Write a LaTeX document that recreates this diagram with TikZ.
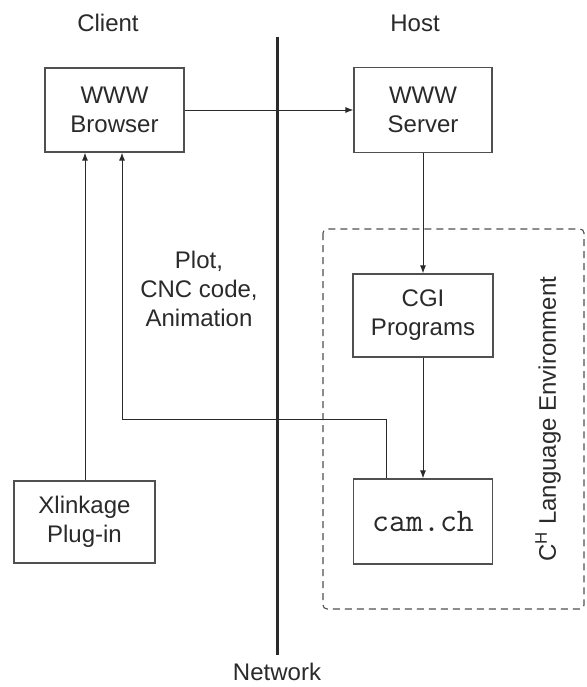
\documentclass[tikz,border=0pt]{standalone}
\usepackage{fontspec}
\setmainfont{Liberation Sans}
\usetikzlibrary{arrows.meta}
\definecolor{ink}{HTML}{2A2A2A}
\definecolor{edge}{HTML}{505050}
\begin{document}
\begin{tikzpicture}[x=1pt,y=-1pt,
  box/.style={draw=edge,line width=1.3pt,fill=white,align=center,inner sep=0pt,
    text=ink,font=\fontsize{24}{29}\selectfont},
  lbl/.style={text=ink,align=center,font=\fontsize{24}{29}\selectfont,inner sep=0pt},
  conn/.style={draw=ink,line width=0.9pt},
  arr/.style={conn,-{Latex[length=8pt,width=6pt]}}]
\useasboundingbox[fill=white] (0,0) rectangle (586,687);
% network line
\coordinate (ntop) at (277,37);
\coordinate (nbot) at (277,655);
\draw[draw=ink,line width=3pt] (ntop) -- (nbot);
\node[lbl] (network) at (277,672) {Network};
\node[lbl] (client) at (108,23) {Client};
\node[lbl] (host) at (415,23) {Host};
% dashed environment
\draw[draw=edge,line width=1.1pt,dash pattern=on 7pt off 5pt,rounded corners=4pt]
  (323,229) rectangle (584,609);
\node[lbl,rotate=90] (env) at (548,419) {C$^{\mathrm{H}}$ Language Environment};
% boxes
\node[box,minimum width=139pt,minimum height=84pt] (browser) at (114.5,110) {WWW\\Browser};
\node[box,minimum width=138pt,minimum height=85pt] (server) at (423,110) {WWW\\Server};
\node[box,minimum width=140pt,minimum height=83pt] (cgi) at (423,315.5) {CGI\\Programs};
\node[box,minimum width=139pt,minimum height=85pt,font=\ttfamily\fontsize{33}{36}\selectfont] (cam) at (423,521.5) {cam.ch};
\node[box,minimum width=141pt,minimum height=82pt] (xlink) at (84.5,522) {Xlinkage\\Plug-in};
% label
\node[lbl] (plot) at (199,288.5) {Plot,\\CNC code,\\Animation};
% connectors
\draw[arr] (browser.east) -- (server.west);
\draw[arr] (server.south) -- (cgi.north);
\draw[arr] (cgi.south) -- (cam.north);
\draw[arr] (xlink.north -| 85,0) -- (browser.south -| 85,0);
\coordinate (r1) at (386,419);
\coordinate (r2) at (122,419);
\draw[arr] (cam.north -| r1) -- (r1) -- (r2) -- (browser.south -| r2);
\end{tikzpicture}
\end{document}
